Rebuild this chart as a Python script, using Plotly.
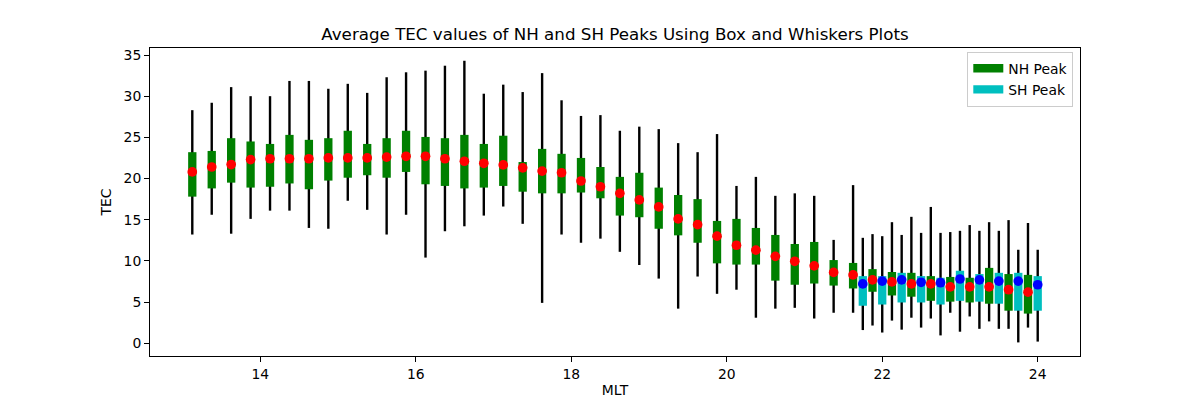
import plotly.graph_objects as go

# ---- data ----
nh_mlt = [13.125, 13.375, 13.625, 13.875, 14.125, 14.375, 14.625, 14.875, 15.125, 15.375,
          15.625, 15.875, 16.125, 16.375, 16.625, 16.875, 17.125, 17.375, 17.625, 17.875,
          18.125, 18.375, 18.625, 18.875, 19.125, 19.375, 19.625, 19.875, 20.125, 20.375,
          20.625, 20.875, 21.125, 21.375, 21.625, 21.875, 22.125, 22.375, 22.625, 22.875,
          23.125, 23.375, 23.625, 23.875]
nh_max = [28.3, 29.2, 31.1, 30.0, 30.0, 31.85, 31.85, 30.9, 31.5, 30.4,
          32.3, 32.9, 33.1, 33.7, 34.3, 30.3, 31.4, 30.5, 32.8, 29.5,
          27.6, 27.7, 25.8, 26.3, 26.0, 24.3, 23.2, 25.4, 19.1, 20.2,
          17.9, 18.2, 17.9, 12.55, 19.2, 13.25, 14.7, 15.35, 16.55, 13.5,
          14.35, 14.7, 14.95, 14.6]
nh_q3 = [23.2, 23.35, 24.9, 24.5, 24.2, 25.3, 24.7, 24.9, 25.8, 24.2,
         24.9, 25.8, 25.05, 24.9, 25.3, 24.2, 25.2, 22.0, 23.6, 23.0,
         22.5, 21.4, 20.2, 20.7, 18.9, 18.0, 17.5, 14.85, 15.1, 14.0,
         13.15, 12.05, 12.3, 10.1, 9.75, 9.0, 8.65, 8.55, 8.15, 8.05,
         7.95, 9.15, 8.4, 8.3]
nh_mid = [20.8, 21.4, 21.7, 22.3, 22.4, 22.4, 22.4, 22.5, 22.5, 22.5,
          22.6, 22.7, 22.7, 22.4, 22.1, 21.85, 21.65, 21.3, 20.9, 20.7,
          19.7, 19.0, 18.2, 17.4, 16.55, 15.1, 14.4, 13.0, 11.9, 11.3,
          10.55, 9.95, 9.4, 8.6, 8.3, 7.7, 7.45, 7.2, 7.2, 6.85,
          6.85, 6.85, 6.5, 6.2]
nh_q1 = [17.8, 18.8, 19.5, 18.9, 19.0, 19.4, 18.7, 19.75, 20.1, 20.4,
         20.1, 20.8, 19.3, 19.1, 18.8, 18.9, 19.1, 18.4, 18.2, 18.2,
         18.3, 17.6, 15.5, 15.3, 13.9, 13.1, 12.2, 9.7, 9.55, 9.55,
         7.6, 7.1, 7.25, 7.0, 6.65, 6.25, 5.8, 5.65, 5.15, 5.05,
         4.95, 4.8, 3.95, 3.6]
nh_min = [13.2, 15.6, 13.3, 15.1, 16.1, 16.1, 14.0, 13.9, 17.3, 16.2,
          13.2, 15.6, 10.4, 13.6, 14.2, 15.5, 16.6, 14.5, 4.9, 13.2,
          12.2, 12.7, 11.1, 9.5, 7.85, 4.2, 8.1, 6.0, 6.5, 3.1,
          4.2, 4.3, 3.0, 3.7, 3.7, 2.15, 2.75, 3.1, 3.0, 3.7,
          3.25, 2.65, 1.75, 1.9]

sh_mlt = [21.75, 22.0, 22.25, 22.5, 22.75, 23.0, 23.25, 23.5, 23.75, 24.0]
sh_max = [12.8, 13.0, 13.15, 13.4, 13.4, 13.65, 13.65, 13.65, 11.35, 11.35]
sh_q3 = [8.15, 8.15, 8.55, 8.15, 7.95, 8.8, 8.4, 8.55, 8.55, 8.15]
sh_mid = [7.2, 7.55, 7.7, 7.4, 7.35, 7.8, 7.7, 7.55, 7.55, 7.1]
sh_q1 = [4.55, 4.7, 4.95, 4.95, 4.7, 5.15, 5.05, 4.8, 3.95, 3.95]
sh_min = [1.6, 1.3, 1.65, 1.9, 0.95, 1.4, 1.75, 1.75, 0.1, 0.2]

x_ticks = [14, 16, 18, 20, 22, 24]
y_ticks = [0, 5, 10, 15, 20, 25, 30, 35]

TITLE = "Average TEC values of NH and SH Peaks Using Box and Whiskers Plots"


def segments(xs, lo, hi):
    sx, sy = [], []
    for x, a, b in zip(xs, lo, hi):
        sx += [x, x, None]
        sy += [a, b, None]
    return sx, sy


fig = go.Figure()


def add_group(xs, vmin, vq1, vmid, vq3, vmax, box_color, dot_color, name):
    wx, wy = segments(xs, vmin, vmax)
    fig.add_trace(go.Scatter(x=wx, y=wy, mode="lines",
                             line=dict(color="black", width=2.4),
                             showlegend=False, hoverinfo="skip"))
    bx, by = segments(xs, vq1, vq3)
    fig.add_trace(go.Scatter(x=bx, y=by, mode="lines", name=name,
                             line=dict(color=box_color, width=8.3),
                             showlegend=True))
    fig.add_trace(go.Scatter(x=xs, y=vmid, mode="markers",
                             marker=dict(color=dot_color, size=9.7, line=dict(width=0)),
                             showlegend=False))


add_group(nh_mlt, nh_min, nh_q1, nh_mid, nh_q3, nh_max, "#008000", "#ff0000", "NH Peak")
add_group(sh_mlt, sh_min, sh_q1, sh_mid, sh_q3, sh_max, "#00bfbf", "#0000ff", "SH Peak")

axis_common = dict(
    showgrid=False, zeroline=False, showline=True, mirror=True,
    linecolor="black", linewidth=1.1, ticks="outside", ticklen=4.9,
    tickwidth=1.1, tickcolor="black", automargin=False,
    tickfont=dict(family="DejaVu Sans", size=13.9, color="black"),
)

fig.update_layout(
    width=1200, height=400,
    margin=dict(l=150, r=120, t=48, b=44),
    plot_bgcolor="white", paper_bgcolor="white",
    font=dict(family="DejaVu Sans", size=13.9, color="black"),
    title=dict(text=TITLE, x=0.5, xref="paper", xanchor="center",
               y=1 - 34 / 400, yref="container", yanchor="middle",
               font=dict(family="DejaVu Sans", size=16.7, color="black")),
    xaxis=dict(range=[12.581, 24.544], tickvals=x_ticks,
               title=dict(text="MLT", standoff=4,
                          font=dict(family="DejaVu Sans", size=13.9)),
               **axis_common),
    yaxis=dict(range=[-1.55, 35.85], tickvals=y_ticks,
               title=dict(text="TEC", standoff=8,
                          font=dict(family="DejaVu Sans", size=13.9)),
               **axis_common),
    legend=dict(x=0.9928, y=0.988, xanchor="right", yanchor="top",
                bgcolor="rgba(255,255,255,0.8)", bordercolor="#cccccc", borderwidth=1,
                font=dict(family="DejaVu Sans", size=13.9, color="black"),
                itemwidth=30, tracegroupgap=0),
    showlegend=True,
)

fig.write_html("out.html", config={"displayModeBar": False},
               post_script="document.body.style.margin='0px';")
